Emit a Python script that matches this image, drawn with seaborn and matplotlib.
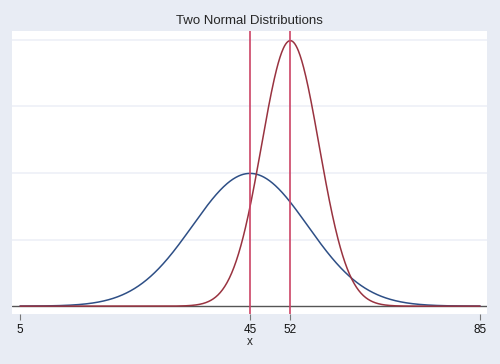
import numpy as np
import pandas as pd
import matplotlib
matplotlib.use("Agg")
import matplotlib.pyplot as plt
import seaborn as sns

# two normal curves, given by mean and sd
means = [45, 52]
sds = [10, 5]
curve_names = ["blue", "red"]
x_ticks = [5, 45, 52, 85]
x_range = (5, 85)

BG = "#E8ECF4"
CURVE_COLORS = {"blue": "#2E4F86", "red": "#993340"}
VLINE_COLOR = "#CC4466"

sns.set_theme(style="white")
plt.rcParams["font.family"] = ["Liberation Sans", "DejaVu Sans"]

xs = np.linspace(x_range[0], x_range[1], 801)
frames = []
for name, m, s in zip(curve_names, means, sds):
    dens = np.exp(-0.5 * ((xs - m) / s) ** 2) / (s * np.sqrt(2 * np.pi))
    frames.append(pd.DataFrame({"x": xs, "density": dens, "curve": name}))
df = pd.concat(frames, ignore_index=True)

fig = plt.figure(figsize=(5, 3.64), dpi=100, facecolor=BG)
ax = fig.add_axes([0.024, 0.137, 0.95, 0.778])
ax.set_facecolor("white")

for y in [0.02, 0.04, 0.06, 0.08]:
    ax.axhline(y, color="#EEF0F7", lw=1.2, zorder=0)
ax.axhline(0, color="#555555", lw=1.0, zorder=1)

sns.lineplot(data=df, x="x", y="density", hue="curve", palette=CURVE_COLORS,
             linewidth=1.1, legend=False, ax=ax, zorder=3)

for m in means:
    ax.axvline(m, color=VLINE_COLOR, lw=1.2, zorder=4)

ax.set_xlim(3.6, 86.2)
ax.set_ylim(-0.0024, 0.0827)
ax.set_xticks(x_ticks)
ax.set_xticklabels([str(t) for t in x_ticks], fontsize=8.5, color="#111111")
ax.set_yticks([])
ax.tick_params(axis="x", bottom=True, length=4, width=0.8, color="#777777",
               pad=3, direction="out")
for sp in ax.spines.values():
    sp.set_visible(False)
ax.set_xlabel("x", fontsize=8.5, labelpad=0)
ax.set_ylabel("")
ax.set_title("Two Normal Distributions", fontsize=9.5, pad=5)

fig.savefig("out.png", dpi=100, facecolor=BG)
